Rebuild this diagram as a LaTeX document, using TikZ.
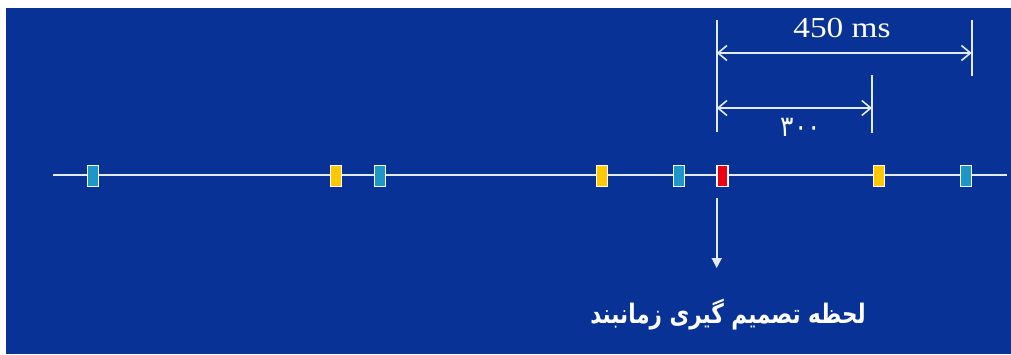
\documentclass[tikz,border=0pt]{standalone}
\usepackage{fontspec}
\setmainfont{Liberation Serif}
\newfontfamily\arabicfont[Script=Arabic]{DejaVu Sans}
\TeXXeTstate=1
\usetikzlibrary{arrows.meta}
\definecolor{bgblue}{RGB}{8,50,150}
\definecolor{lineclr}{RGB}{225,235,250}
\definecolor{cyanbox}{RGB}{30,150,200}
\definecolor{yellowbox}{RGB}{255,200,0}
\definecolor{redbox}{RGB}{235,0,20}
\tikzset{
  tick/.style={draw=white, line width=1.3pt, minimum width=11pt, minimum height=21pt, inner sep=0pt},
  cyantick/.style={tick, fill=cyanbox},
  yellowtick/.style={tick, fill=yellowbox},
  redtick/.style={tick, fill=redbox},
  tline/.style={draw=lineclr, line width=1.8pt},
  dimline/.style={draw=lineclr, line width=1.6pt},
  dimarrow/.style={draw=lineclr, line width=1.6pt, {Straight Barb[length=9pt,width=15pt]}-{Straight Barb[length=9pt,width=15pt]}},
  downarrow/.style={draw=lineclr, line width=1.6pt, -{Triangle[length=10pt,width=10pt]}},
  lbl/.style={text=white, inner sep=0pt}
}
\begin{document}
\begin{tikzpicture}[x=1pt,y=-1pt]
\useasboundingbox (0,0) rectangle (1011,354);
\fill[white] (0,0) rectangle (1011,354);
\fill[bgblue] (6,8) rectangle (1011,354);
% timeline
\coordinate (ts) at (53,175);
\coordinate (te) at (1007,175);
\draw[tline] (ts) -- (te);
\node[cyantick]   (b1) at (92.7,176) {};
\node[yellowtick] (b2) at (336,176) {};
\node[cyantick]   (b3) at (380,176) {};
\node[yellowtick] (b4) at (601.7,176) {};
\node[cyantick]   (b5) at (678.7,176) {};
\node[redtick]    (b6) at (722.5,176) {};
\node[yellowtick] (b7) at (878.7,176) {};
\node[cyantick]   (b8) at (966,176) {};
% dimension lines
\coordinate (v0t) at (716.7,20);
\coordinate (v0b) at (716.7,132);
\coordinate (v1t) at (971.7,20);
\coordinate (v1b) at (971.7,76);
\coordinate (v2t) at (872,75);
\coordinate (v2b) at (872,133);
\draw[dimline] (v0t) -- (v0b);
\draw[dimline] (v1t) -- (v1b);
\draw[dimline] (v2t) -- (v2b);
\coordinate (a1l) at (716.7,53);
\coordinate (a1r) at (971.7,53);
\coordinate (a2l) at (716.7,108);
\coordinate (a2r) at (872,108);
\draw[dimarrow] (a1l) -- (a1r);
\draw[dimarrow] (a2l) -- (a2r);
\node[lbl, font=\fontsize{29}{31}\selectfont, xscale=1.15] (t450) at (842,28) {450 ms};
\node[lbl, font=\arabicfont\fontsize{25}{27}\selectfont, yscale=1.15] (t300) at (801,127) {۳۰۰};
% down arrow
\coordinate (ds) at (716.7,198);
\coordinate (dn) at (716.7,268);
\draw[downarrow] (ds) -- (dn);
\node[lbl, font=\arabicfont\bfseries\fontsize{21.5}{26}\selectfont, yscale=1.25] (caption) at (728,315) {\beginR لحظه تصمیم گیری زمانبند\endR};
\end{tikzpicture}
\end{document}
